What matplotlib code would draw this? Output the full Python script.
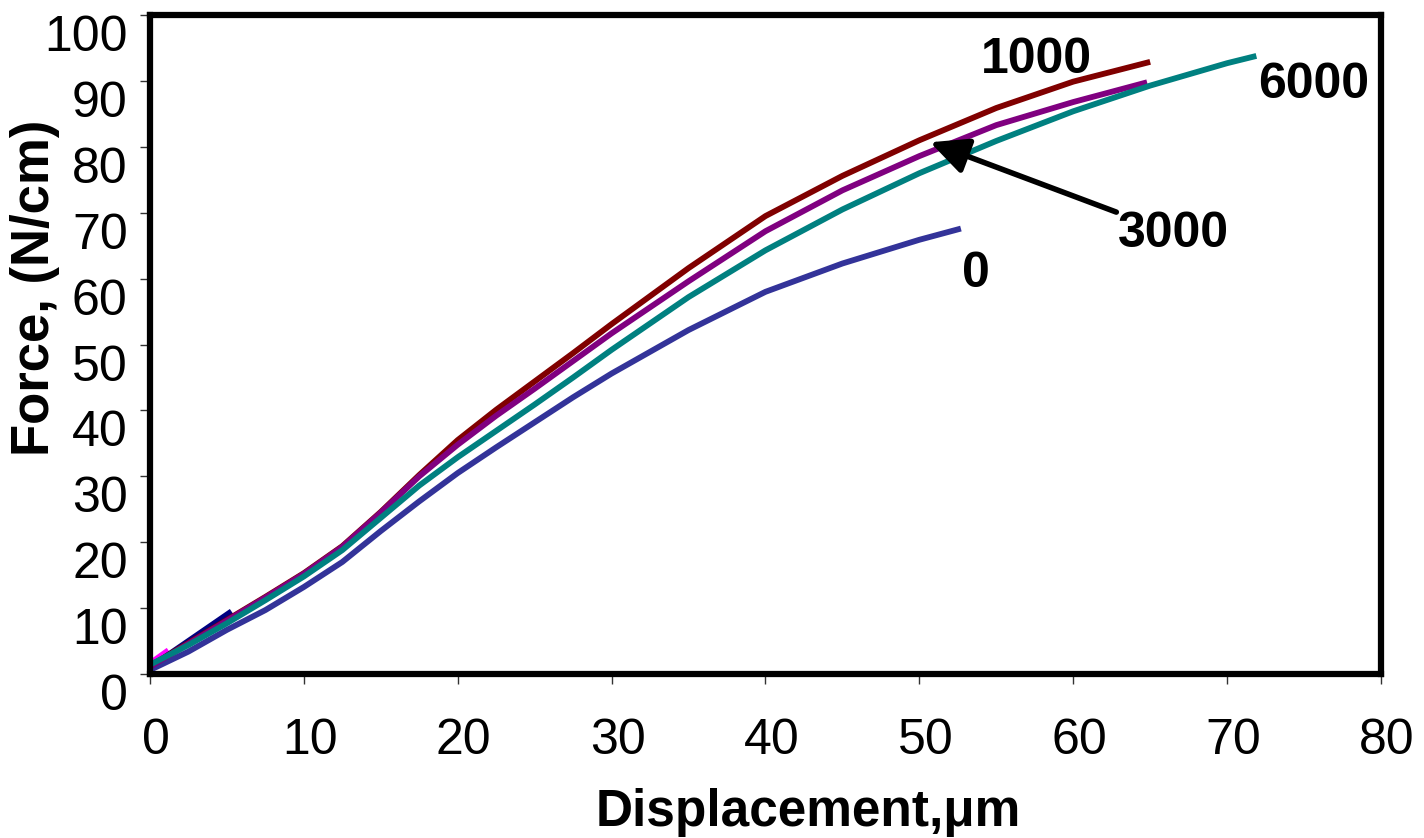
import matplotlib.pyplot as plt
from matplotlib.transforms import ScaledTranslation

plt.rcParams['font.family'] = ['Liberation Sans', 'DejaVu Sans']

# curve data (displacement in um, force in N/cm)
x_0 = [0, 2.5, 5, 7.5, 10, 12.5, 15, 17.5, 20, 22.5, 25, 27.5, 30, 35, 40, 45, 50, 52.7]
f_0 = [0.6, 3.4, 6.7, 9.7, 13.2, 17.0, 21.7, 26.2, 30.5, 34.4, 38.2, 42.0, 45.6, 52.2, 58.0, 62.3, 65.9, 67.6]

x_6000 = [0, 2.5, 5, 7.5, 10, 12.5, 15, 17.5, 20, 22.5, 25, 27.5, 30, 35, 40, 45, 50, 55, 60, 65, 70, 71.9]
f_6000 = [1.4, 4.4, 7.7, 11.2, 14.8, 18.8, 23.7, 28.6, 32.9, 36.9, 40.9, 45.0, 49.2, 57.2, 64.3, 70.5, 76.0, 80.9, 85.4, 89.3, 92.7, 93.8]

x_3000 = [0, 2.5, 5, 7.5, 10, 12.5, 15, 17.5, 20, 22.5, 25, 27.5, 30, 35, 40, 45, 50, 55, 60, 64.8]
f_3000 = [1.1, 4.6, 8.1, 11.6, 15.2, 19.3, 24.5, 30.0, 34.8, 39.2, 43.3, 47.5, 51.7, 59.6, 67.2, 73.4, 78.6, 83.3, 86.8, 89.8]

x_1000 = [0, 2.5, 5, 7.5, 10, 12.5, 15, 17.5, 20, 22.5, 25, 27.5, 30, 35, 40, 45, 50, 55, 60, 65]
f_1000 = [1.2, 4.7, 8.2, 11.7, 15.3, 19.4, 24.6, 30.2, 35.5, 40.1, 44.4, 48.7, 53.1, 61.6, 69.5, 75.6, 81.0, 85.9, 89.9, 92.9]

# two short stray series near the origin
x_navy = [0, 5.3]
f_navy = [1.0, 9.5]
x_mag = [0, 1.2]
f_mag = [1.6, 3.6]

x_ticks = [0, 10, 20, 30, 40, 50, 60, 70, 80]
y_ticks = [0, 10, 20, 30, 40, 50, 60, 70, 80, 90, 100]

fig = plt.figure(figsize=(14.24, 8.38), dpi=100)
ax = fig.add_axes([0.1053, 0.1957, 0.8645, 0.7863])

lw = 4.2
style = dict(lw=lw, solid_capstyle='butt', solid_joinstyle='round')
ax.plot(x_mag, f_mag, color='#FF00FF', **style)
ax.plot(x_navy, f_navy, color='#000080', **style)
ax.plot(x_0, f_0, color='#333399', **style)
ax.plot(x_1000, f_1000, color='#800000', **style)
ax.plot(x_3000, f_3000, color='#800080', **style)
ax.plot(x_6000, f_6000, color='#008080', **style)

ax.set_xlim(0, 80)
ax.set_ylim(0, 100)
ax.set_xticks(x_ticks)
ax.set_yticks(y_ticks)
ax.set_xticklabels([str(v) for v in x_ticks])
ax.set_yticklabels([str(v) for v in y_ticks], va='top')

for s in ax.spines.values():
    s.set_linewidth(4.5)
    s.set_color('black')

ax.tick_params(axis='both', direction='out', length=7, width=1, color='#333333',
               labelsize=36)
ax.tick_params(axis='x', pad=25)
ax.tick_params(axis='y', pad=9)

# x tick labels sit a little right of their ticks in the original
shift = ScaledTranslation(6 / 100, 0, fig.dpi_scale_trans)
for lab in ax.get_xticklabels():
    lab.set_transform(lab.get_transform() + shift)

fig.text(808 / 1424, (838 - 826) / 838, 'Displacement,\u03bcm', fontsize=37,
         fontweight='bold', ha='center', va='baseline')
fig.text(35 / 1424, 1 - 288 / 838, 'Force, (N/cm)', fontsize=38,
         fontweight='bold', ha='center', va='center', rotation=90)

ax.text(57.6, 91.2, '1000', fontsize=36, fontweight='bold', ha='center', va='baseline')
ax.text(75.6, 87.4, '6000', fontsize=36, fontweight='bold', ha='center', va='baseline',
        clip_on=False)
ax.text(66.5, 64.8, '3000', fontsize=36, fontweight='bold', ha='center', va='baseline')
ax.text(53.7, 58.7, '0', fontsize=36, fontweight='bold', ha='center', va='baseline')

ax.annotate('', xy=(50.7, 80.7), xytext=(62.8, 70.1),
            arrowprops=dict(arrowstyle='-|>,head_length=1.15,head_width=0.55',
                            mutation_scale=20, lw=4, color='black',
                            shrinkA=0, shrinkB=0))

fig.savefig('out.png', dpi=100)
